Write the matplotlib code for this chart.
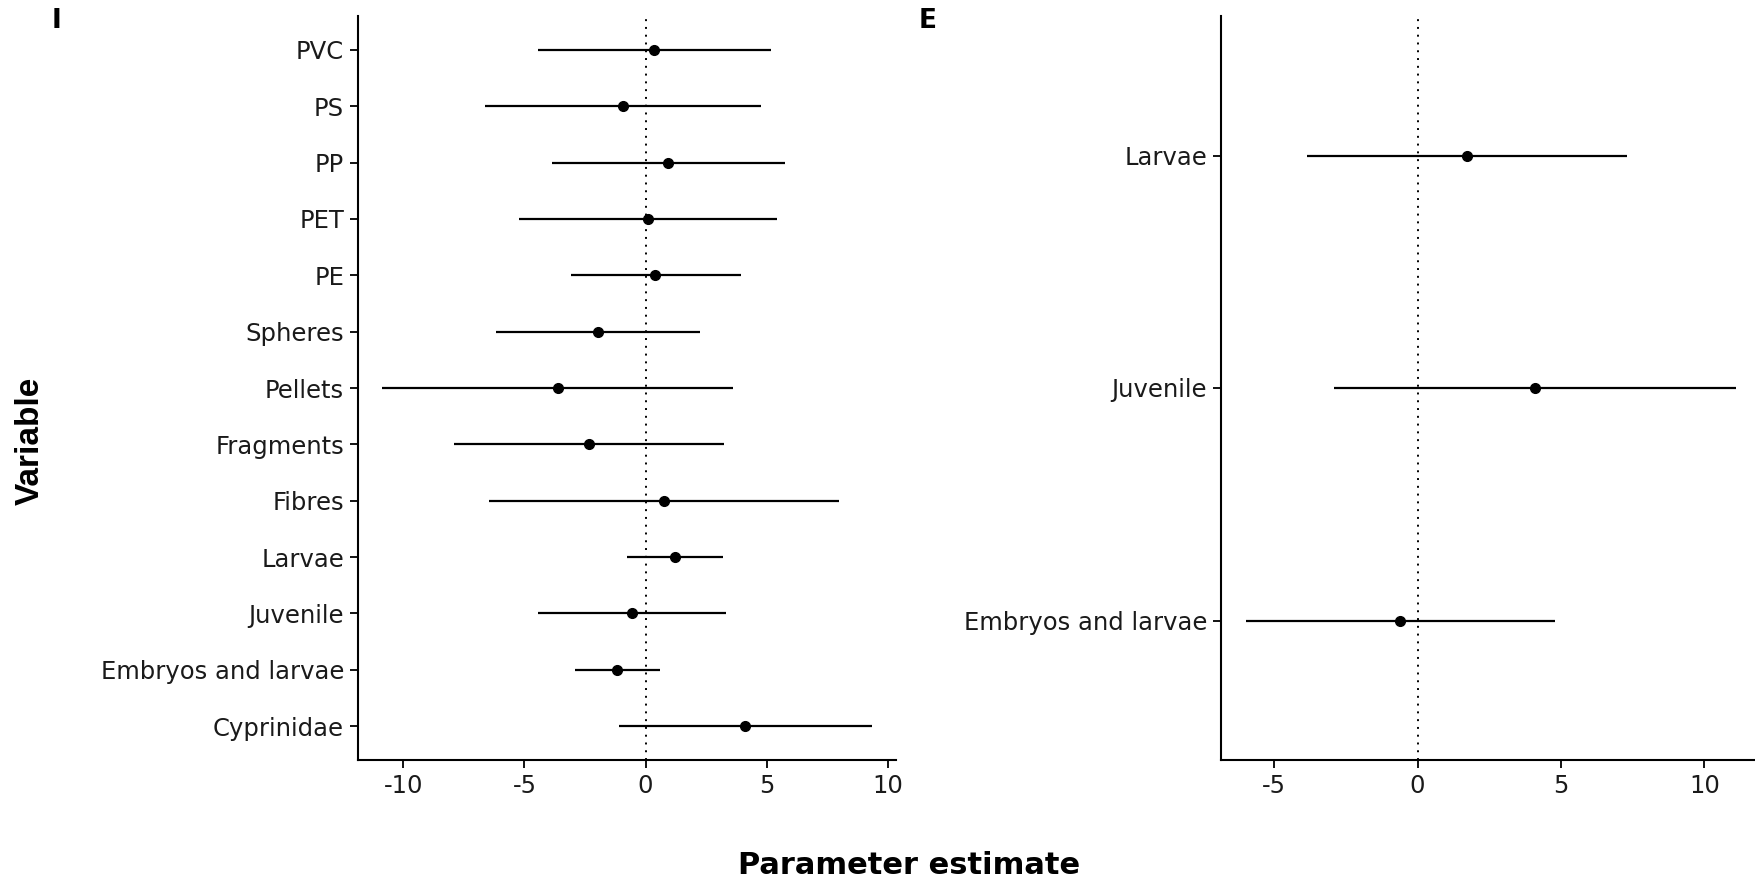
import numpy as np
import matplotlib.pyplot as plt

# Panel I
vars_i = ["PVC", "PS", "PP", "PET", "PE", "Spheres", "Pellets", "Fragments",
          "Fibres", "Larvae", "Juvenile", "Embryos and larvae", "Cyprinidae"]
est_i = [0.34, -0.93, 0.92, 0.09, 0.41, -1.97, -3.62, -2.34, 0.75, 1.20, -0.56, -1.17, 4.11]
low_i = [-4.44, -6.61, -3.86, -5.22, -3.09, -6.17, -10.86, -7.91, -6.48, -0.78, -4.45, -2.91, -1.08]
high_i = [5.18, 4.76, 5.74, 5.43, 3.95, 2.26, 3.62, 3.22, 7.99, 3.18, 3.33, 0.58, 9.33]

# Panel E
vars_e = ["Larvae", "Juvenile", "Embryos and larvae"]
est_e = [1.73, 4.08, -0.61]
low_e = [-3.84, -2.93, -6.00]
high_e = [7.32, 11.12, 4.79]

W, H = 1756, 882
fig = plt.figure(figsize=(W / 100, H / 100), dpi=100)
txt = "#1a1a1a"


def forest(ax, names, est, low, high, xticks):
    n = len(names)
    y = np.arange(n)[::-1]
    ax.hlines(y, low, high, color="black", lw=1.6, zorder=2)
    ax.plot(est, y, "o", color="black", ms=7, zorder=3)
    ax.axvline(0, color="black", ls=(0, (1, 3)), lw=1.4, zorder=1)
    ax.set_yticks(y)
    ax.set_yticklabels(names)
    ax.set_ylim(-0.6, n - 0.4)
    span = max(high) - min(low)
    ax.set_xlim(min(low) - 0.05 * span, max(high) + 0.05 * span)
    ax.set_xticks(xticks)
    ax.set_xticklabels([str(t) for t in xticks])
    for s in ["top", "right"]:
        ax.spines[s].set_visible(False)
    for s in ["left", "bottom"]:
        ax.spines[s].set_linewidth(1.5)
    ax.tick_params(length=6, width=1.3, labelsize=17.5, colors=txt, pad=4)
    ax.tick_params(colors="black", labelcolor=txt)


ax1 = fig.add_axes([358 / W, 1 - 760 / H, 538 / W, 744 / H])
forest(ax1, vars_i, est_i, low_i, high_i, [-10, -5, 0, 5, 10])

ax2 = fig.add_axes([1221 / W, 1 - 760 / H, 540 / W, 744 / H])
forest(ax2, vars_e, est_e, low_e, high_e, [-5, 0, 5, 10])

fig.text(56 / W, 1 - 21 / H, "I", fontsize=19, fontweight="bold", ha="center", va="center")
fig.text(928 / W, 1 - 21 / H, "E", fontsize=19, fontweight="bold", ha="center", va="center")
fig.text(909 / W, 1 - 865 / H, "Parameter estimate", fontsize=22, fontweight="bold",
         ha="center", va="center")
fig.text(30 / W, 1 - 441 / H, "Variable", fontsize=24, fontweight="bold", rotation=90,
         ha="center", va="center", family=["Liberation Sans Narrow", "Liberation Sans"])

fig.savefig("out.png", dpi=100)
